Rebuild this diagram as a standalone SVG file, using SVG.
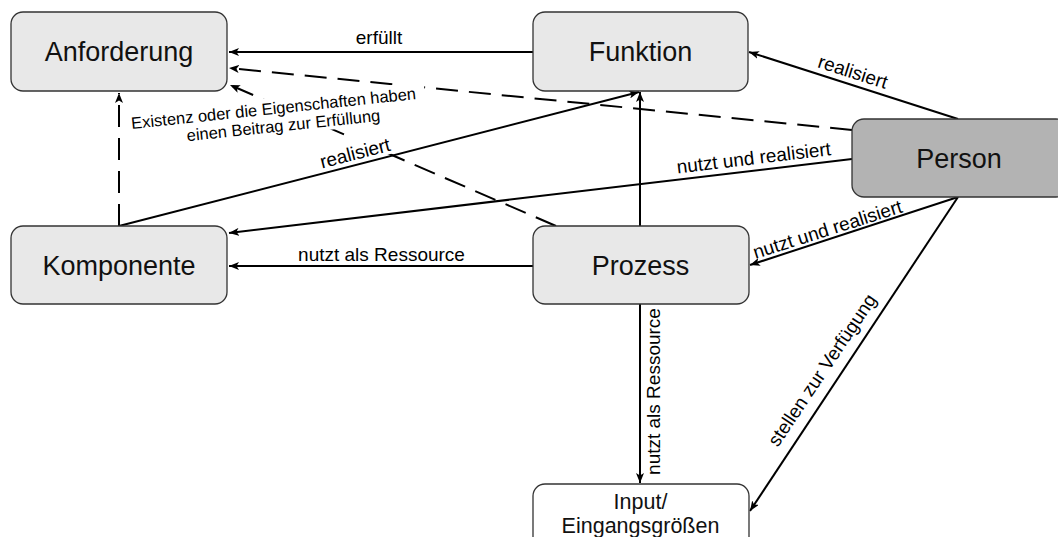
<svg xmlns="http://www.w3.org/2000/svg" width="1058" height="537" viewBox="0 0 1058 537">
  <defs>
    <marker id="arrow" viewBox="0 0 10 8" refX="10" refY="4" markerWidth="10" markerHeight="8" markerUnits="userSpaceOnUse" orient="auto">
      <path d="M0,0 L10,4 L0,8 L2.5,4 Z" fill="#000" stroke="none"/>
    </marker>
    <style>
      .box { fill: #e8e8e8; stroke: #333; stroke-width: 1.3; }
      .box.dark { fill: #b3b3b3; }
      .box.plain { fill: #ffffff; }
      .node-text { font-family: "Liberation Sans", Arial, sans-serif; font-size: 27px; fill: #111; text-anchor: middle; }
      .small-node-text { font-family: "Liberation Sans", Arial, sans-serif; font-size: 21.5px; fill: #111; text-anchor: middle; }
      .edge { fill: none; stroke: #000; stroke-width: 2; }
      .arrow { marker-end: url(#arrow); }
      .dashed { stroke-dasharray: 22 11; }
      .label { font-family: "Liberation Sans", Arial, sans-serif; font-size: 19px; fill: #000; text-anchor: middle; }
      .note { font-family: "Liberation Sans", Arial, sans-serif; font-size: 16.5px; fill: #000; text-anchor: middle; }
      .label-bg { fill: #ffffff; stroke: none; }
    </style>
  </defs>

  <rect width="1058" height="537" fill="#ffffff"/>

  <!-- connectors -->
  <g id="connectors">
    <path class="edge arrow" d="M533,52 L229,52"/>
    <path class="edge arrow dashed" d="M852,130 L229,68"/>
    <path class="edge arrow dashed" d="M556,226 L230,85"/>
    <path class="edge arrow dashed" d="M119,226 L119,93"/>
    <path class="edge arrow" d="M119,226 L639,92"/>
    <path class="edge arrow" d="M640,226 L640,92"/>
    <path class="edge arrow" d="M958,119 L749,52"/>
    <path class="edge arrow" d="M852,159 L229,233"/>
    <path class="edge arrow" d="M533,266 L229,266"/>
    <path class="edge arrow" d="M958,197 L750,265"/>
    <path class="edge arrow" d="M640,304 L640,483"/>
    <path class="edge arrow" d="M958,197 L750,511"/>

    <!-- edge labels -->
    <text class="label" x="379" y="44">erfüllt</text>
    <text class="label" x="381.5" y="261">nutzt als Ressource</text>
    <g transform="translate(356.7,159.5) rotate(-14.5)">
      <rect class="label-bg" x="-37" y="-23" width="74" height="26"/>
      <text class="label" x="0" y="0">realisiert</text>
    </g>
    <text class="label" transform="translate(851,78) rotate(17.7)">realisiert</text>
    <text class="label" transform="translate(754.5,164.2) rotate(-6.8)">nutzt und realisiert</text>
    <text class="label" transform="translate(829.5,235.5) rotate(-17.6)">nutzt und realisiert</text>
    <text class="label" transform="translate(827.5,373.7) rotate(-56.2)">stellen zur Verfügung</text>
    <text class="label" transform="translate(660,391.5) rotate(-90)">nutzt als Ressource</text>
    <g transform="translate(279,122) rotate(-6)">
      <rect class="label-bg" x="-150" y="-25" width="298" height="38"/>
      <text class="note" x="-4" y="-8.5">Existenz oder die Eigenschaften haben</text>
      <text class="note" x="4" y="9.5">einen Beitrag zur Erfüllung</text>
    </g>
  </g>

  <g id="anforderung">
    <rect class="box" x="11" y="12" width="216" height="79" rx="12"/>
    <text class="node-text" x="119" y="61">Anforderung</text>
  </g>
  <g id="funktion">
    <rect class="box" x="533" y="12" width="215" height="79" rx="12"/>
    <text class="node-text" x="640.5" y="61">Funktion</text>
  </g>
  <g id="person">
    <rect class="box dark" x="852" y="119" width="216" height="78" rx="12"/>
    <text class="node-text" x="959" y="167.5">Person</text>
  </g>
  <g id="komponente">
    <rect class="box" x="11" y="226" width="216" height="78" rx="12"/>
    <text class="node-text" x="119" y="274.5">Komponente</text>
  </g>
  <g id="prozess">
    <rect class="box" x="533" y="226" width="216" height="78" rx="12"/>
    <text class="node-text" x="640.5" y="274.5">Prozess</text>
  </g>
  <g id="input">
    <rect class="box plain" x="533" y="484" width="216" height="79" rx="12"/>
    <text class="small-node-text" x="640.5" y="509">Input/</text>
    <text class="small-node-text" x="640.5" y="533">Eingangsgrößen</text>
  </g>
</svg>
